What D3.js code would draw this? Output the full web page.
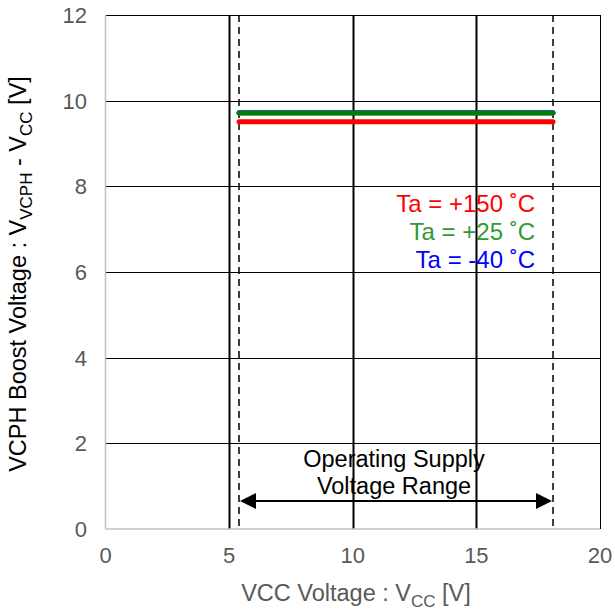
<!DOCTYPE html>
<html><head><meta charset="utf-8">
<script src="https://cdn.jsdelivr.net/npm/d3@7"></script>
<style>body{margin:0;background:#fff}svg{display:block;font-family:Arial,"Liberation Sans",sans-serif}</style>
</head><body><svg id="c" width="615" height="610"></svg>
<script>
const xTicks = [0, 5, 10, 15, 20];
const yTicks = [0, 2, 4, 6, 8, 10, 12];
const vcc = [5.4, 18.1];
const seriesColors = ["#0000ff", "#008000", "#ff0000"];
const vBlue = [9.72, 9.72];
const vGreen = [9.71, 9.71];
const vRed = [9.51, 9.51];
const legendOrder = ["Ta = +150 ˚C", "Ta = +25 ˚C", "Ta = -40 ˚C"];
const legendColors = ["#ff0000", "#339933", "#0000ff"];
const opRange = [5.4, 18.1];

const svg = d3.select("#c");
const L = 105.5, R = 600, T = 15, B = 529;
const x = d3.scaleLinear().domain([0, 20]).range([L, R]);
const y = d3.scaleLinear().domain([0, 12]).range([B, T]);

// legend (under gridlines)
svg.append("g").selectAll("text").data(legendOrder).join("text")
  .attr("x", 535).attr("y", (d, i) => 212 + i * 28).attr("text-anchor", "end")
  .attr("font-size", 24).attr("fill", (d, i) => legendColors[i]).text(d => d);

// annotation text
const midX = (x(opRange[0]) + x(opRange[1])) / 2;
svg.append("text").attr("x", midX - 2).attr("y", 467).attr("text-anchor", "middle").attr("font-size", 23.5).attr("fill", "#000").text("Operating Supply");
svg.append("text").attr("x", midX - 2).attr("y", 494).attr("text-anchor", "middle").attr("font-size", 23.5).attr("fill", "#000").text("Voltage Range");

// horizontal gridlines
svg.append("g").selectAll("line").data(yTicks.filter(d => d > 0)).join("line")
  .attr("x1", L).attr("x2", R).attr("y1", d => Math.round(y(d)) + 0.5).attr("y2", d => Math.round(y(d)) + 0.5)
  .attr("stroke", "#000").attr("stroke-width", 1);
// vertical gridlines
svg.append("g").selectAll("line").data(xTicks.filter(d => d > 0)).join("line")
  .attr("x1", d => Math.round(x(d)) + 0.5).attr("x2", d => Math.round(x(d)) + 0.5).attr("y1", T).attr("y2", B)
  .attr("stroke", "#000").attr("stroke-width", d => d === 20 ? 1 : 2);

// axes (gray)
svg.append("line").attr("x1", L).attr("x2", L).attr("y1", T).attr("y2", B).attr("stroke", "#bfbfbf").attr("stroke-width", 1.5);
svg.append("line").attr("x1", L).attr("x2", R).attr("y1", B).attr("y2", B).attr("stroke", "#bfbfbf").attr("stroke-width", 1.5);

// tick labels
svg.append("g").selectAll("text").data(yTicks).join("text")
  .attr("x", 87).attr("y", d => y(d) + 8).attr("text-anchor", "end")
  .attr("font-size", 22).attr("fill", "#595959").text(d => d);
svg.append("g").selectAll("text").data(xTicks).join("text")
  .attr("x", d => x(d)).attr("y", 563).attr("text-anchor", "middle")
  .attr("font-size", 22).attr("fill", "#595959").text(d => d);

// dashed operating range lines
svg.append("g").selectAll("line").data(opRange).join("line")
  .attr("x1", d => x(d)).attr("x2", d => x(d)).attr("y1", T).attr("y2", B)
  .attr("stroke", "#000").attr("stroke-width", 1.5).attr("stroke-dasharray", "7,5");

// data lines
const line = d3.line().x(d => x(d[0])).y(d => y(d[1]));
const series = [vBlue, vGreen, vRed];
series.forEach((vals, i) => {
  svg.append("path").datum(vcc.map((v, j) => [v, vals[j]]))
    .attr("d", line).attr("fill", "none").attr("stroke", seriesColors[i])
    .attr("stroke-width", 5).attr("stroke-linecap", "round");
});

// arrow
const ay = 501;
svg.append("line").attr("x1", x(opRange[0]) + 10).attr("x2", x(opRange[1]) - 10).attr("y1", ay).attr("y2", ay).attr("stroke", "#000").attr("stroke-width", 2);
const a0 = x(opRange[0]) + 1, a1 = x(opRange[1]) - 1;
svg.append("path").attr("d", `M${a0},${ay}L${a0 + 16},${ay - 8}L${a0 + 16},${ay + 8}Z`).attr("fill", "#000");
svg.append("path").attr("d", `M${a1},${ay}L${a1 - 16},${ay - 8}L${a1 - 16},${ay + 8}Z`).attr("fill", "#000");

// axis titles
const xt = svg.append("text").attr("x", 356).attr("y", 601).attr("text-anchor", "middle").attr("font-size", 23.5).attr("fill", "#595959");
xt.append("tspan").text("VCC Voltage : V");
xt.append("tspan").attr("font-size", 17).attr("dy", 6).text("CC");
xt.append("tspan").attr("dy", -6).text(" [V]");

const yt = svg.append("text").attr("transform", "translate(25.5,274) rotate(-90)").attr("text-anchor", "middle").attr("font-size", 23.5).attr("fill", "#000");
yt.append("tspan").text("VCPH Boost Voltage : V");
yt.append("tspan").attr("font-size", 17).attr("dy", 6).text("VCPH");
yt.append("tspan").attr("dy", -6).text(" - V");
yt.append("tspan").attr("font-size", 17).attr("dy", 6).text("CC");
yt.append("tspan").attr("dy", -6).text(" [V]");
</script></body></html>
